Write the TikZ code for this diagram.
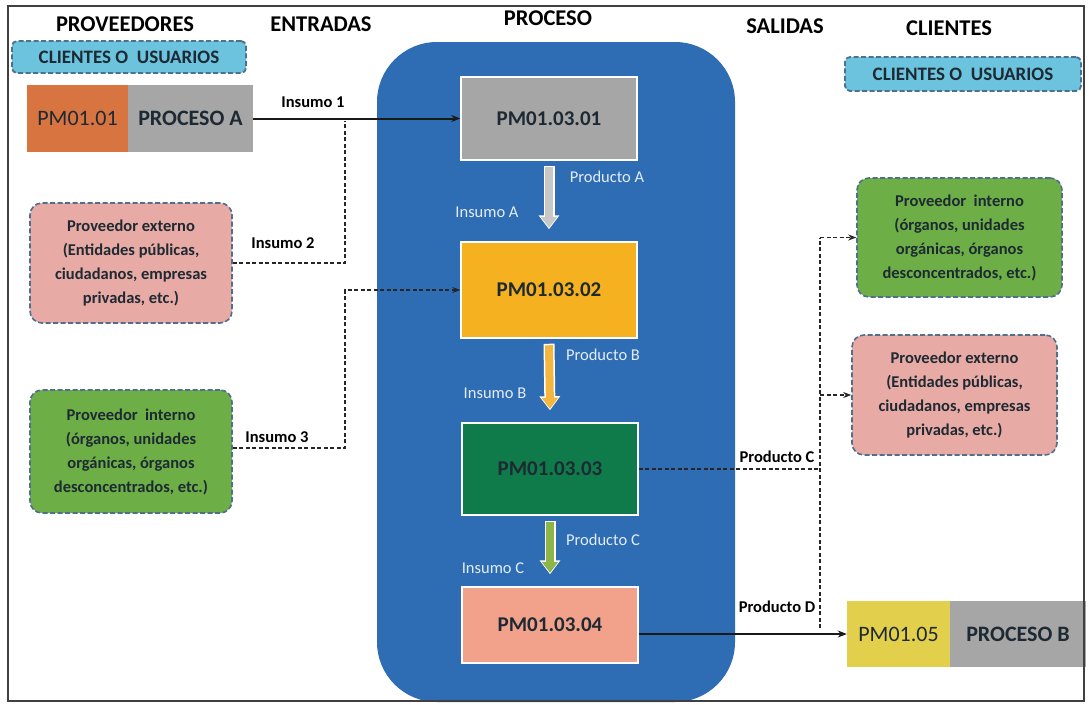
\documentclass[tikz,border=0pt]{standalone}
\usepackage{fontspec}
\setmainfont{Carlito}
\usetikzlibrary{arrows.meta,calc}
\definecolor{lblue}{HTML}{6CC3DE}
\definecolor{bordc}{HTML}{4F6F8F}
\definecolor{orgA}{HTML}{D87440}
\definecolor{grayA}{HTML}{A6A6A6}
\definecolor{procblue}{HTML}{2E6DB4}
\definecolor{yelB}{HTML}{F5B120}
\definecolor{grnC}{HTML}{0F7B4B}
\definecolor{salD}{HTML}{F2A28A}
\definecolor{pinkL}{HTML}{E8AAA5}
\definecolor{grnL}{HTML}{6DAF46}
\definecolor{yelE}{HTML}{E2CF4B}
\definecolor{arrGray}{HTML}{C8C8C8}
\definecolor{arrOrg}{HTML}{F4B63F}
\definecolor{arrGrn}{HTML}{8DB54A}
\definecolor{txtD}{HTML}{1E2A33}
\definecolor{lbltxt}{HTML}{E4ECF5}
\tikzset{
  hdr/.style={font=\fontsize{22.5}{24}\selectfont\bfseries, text=black},
  cubox/.style={draw=bordc, fill=lblue, dashed, dash pattern=on 5pt off 2.5pt, line width=1.8pt, rounded corners=5pt,
     font=\fontsize{19}{20}\selectfont\bfseries, text=txtD, inner sep=0pt},
  rbox/.style={draw=bordc, dashed, dash pattern=on 5pt off 2.5pt, line width=1.6pt, rounded corners=12pt,
     font=\fontsize{16.5}{24}\selectfont\bfseries, text=txtD, align=center, inner sep=0pt},
  pbox/.style={draw=white, line width=1.5pt, font=\fontsize{21}{24}\selectfont\bfseries, text=txtD, inner sep=0pt,
     minimum width=176pt},
  sbox/.style={font=\fontsize{22}{24}\selectfont, text=txtD, inner sep=0pt},
  lab/.style={font=\fontsize{16.5}{18}\selectfont\bfseries, text=black},
  wlab/.style={font=\fontsize{16.5}{18}\selectfont, text=lbltxt},
  dconn/.style={draw=black!85, line width=1.4pt, dash pattern=on 4pt off 2.5pt},
  tipsm/.style={-{Stealth[length=8pt,width=6pt]}},
}
\begin{document}
\begin{tikzpicture}[x=1pt,y=-1pt]
\useasboundingbox (0,0) rectangle (1089,704);
\fill[white] (0,0) rectangle (1089,704);

% process container
\node[fill=procblue, rounded corners=60pt, minimum width=358pt, minimum height=660pt, inner sep=0pt] (proc) at (556,372) {};

% headers
\node[hdr] (h1) at (125,24) {PROVEEDORES};
\node[hdr] (h2) at (321,24) {ENTRADAS};
\node[hdr] (h3) at (548,18) {PROCESO};
\node[hdr] (h4) at (785,26) {SALIDAS};
\node[hdr] (h5) at (949,28) {CLIENTES};

% clientes o usuarios
\node[cubox, minimum width=234pt, minimum height=32pt] (cu1) at (129,57) {CLIENTES O\ \ USUARIOS};
\node[cubox, minimum width=236pt, minimum height=34pt] (cu2) at (963,74) {CLIENTES O\ \ USUARIOS};

% process A
\node[sbox, fill=orgA, minimum width=101pt, minimum height=67pt] (pma) at (77.5,118.5) {PM01.01};
\node[sbox, fill=grayA, minimum width=125pt, minimum height=67pt, font=\fontsize{22}{24}\selectfont\bfseries] (pra) at (190.5,118.5) {PROCESO A};

% process B
\node[sbox, fill=yelE, minimum width=103pt, minimum height=66pt] (pmb) at (898.5,634) {PM01.05};
\node[sbox, fill=grayA, minimum width=136pt, minimum height=66pt, font=\fontsize{22}{24}\selectfont\bfseries] (prb) at (1018,634) {PROCESO B};

% left providers
\node[rbox, fill=pinkL, minimum width=202pt, minimum height=120pt] (lpink) at (131,263)
  {Proveedor externo\\(Entidades públicas,\\ciudadanos, empresas\\privadas, etc.)};
\node[rbox, fill=grnL, minimum width=202pt, minimum height=123pt] (lgrn) at (131,451.5)
  {Proveedor\ \ interno\\(órganos, unidades\\orgánicas, órganos\\desconcentrados, etc.)};

% right clients
\node[rbox, fill=grnL, minimum width=205pt, minimum height=119pt] (rgrn) at (959.5,237.5)
  {Proveedor\ \ interno\\(órganos, unidades\\orgánicas, órganos\\desconcentrados, etc.)};
\node[rbox, fill=pinkL, minimum width=205pt, minimum height=120pt] (rpink) at (954.5,395)
  {Proveedor externo\\(Entidades públicas,\\ciudadanos, empresas\\privadas, etc.)};

% inner process boxes
\node[pbox, fill=grayA, minimum height=83pt] (p1) at (549,118.5) {PM01.03.01};
\node[pbox, fill=yelB, minimum height=96pt] (p2) at (549,290) {PM01.03.02};
\node[pbox, fill=grnC, minimum height=92pt] (p3) at (550,469) {PM01.03.03};
\node[pbox, fill=salD, minimum height=76pt] (p4) at (550,625) {PM01.03.04};

% block arrows between process boxes
\foreach \a/\b/\c in {p1/p2/arrGray, p2/p3/arrOrg, p3/p4/arrGrn}{
  \draw[white, line width=11pt, -{Triangle[width=20pt,length=14pt]}]
     ($(\a.south)+(0,5)$) -- ($(\b.north)+(0,-12)$);
  \draw[\c, line width=8pt, -{Triangle[width=16pt,length=11pt]}]
     ($(\a.south)+(0,6.5)$) -- ($(\b.north)+(0,-13.5)$);
}
\node[wlab] (lpa) at (607,177) {Producto A};
\node[wlab] (lia) at (487,212) {Insumo A};
\node[wlab] (lpb) at (603,355) {Producto B};
\node[wlab] (lib) at (495,393) {Insumo B};
\node[wlab] (lpc) at (603,540) {Producto C};
\node[wlab] (lic) at (493,568) {Insumo C};

% inputs
\draw[black!90, line width=2pt, -{Stealth[length=9pt,width=7pt]}] (pra.east) -- (p1.west);
\node[lab] (li1) at (313,102) {Insumo 1};
\coordinate (j1) at (345,121);
\coordinate (j2) at (345,263);
\draw[dconn] (lpink.east) -- (j2) -- (j1);
\node[lab] (li2) at (283,243) {Insumo 2};
\coordinate (j3) at (345,448);
\coordinate (j4) at (345,290);
\draw[dconn, tipsm] (lgrn.east |- j3) -- (j3) -- (j4) -- (p2.west);
\node[lab] (li3) at (277,437) {Insumo 3};

% outputs
\coordinate (k1) at (820,469);
\coordinate (ktop) at (820,237.5);
\coordinate (kmid) at (820,395);
\coordinate (kbot) at (820,628);
\draw[dconn] (p3.east) -- (k1);
\draw[dconn] (kbot) -- (ktop);
\draw[dconn, tipsm] (ktop) -- (rgrn.west);
\draw[dconn, tipsm] (kmid) -- (rpink.west);
\node[lab] (lpc2) at (777,457) {Producto C};
\draw[black!90, line width=2pt, -{Stealth[length=9pt,width=7pt]}] (p4.east |- pmb.west) -- (pmb.west);
\node[lab] (lpd) at (777,607) {Producto D};

% frame
\draw[black!75, line width=1.5pt] (8,6) rectangle (1084,701);
\end{tikzpicture}
\end{document}
